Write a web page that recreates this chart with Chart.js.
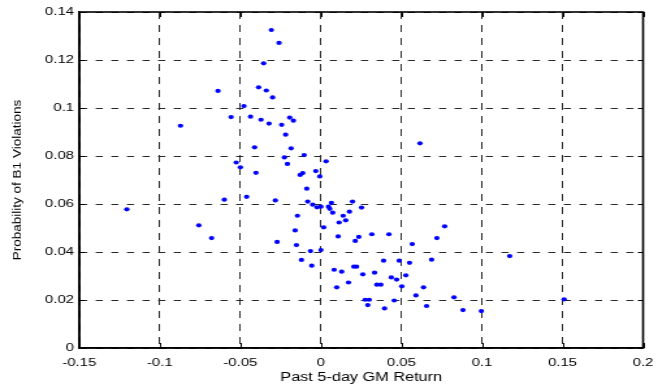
<!DOCTYPE html>
<html>
<head>
<meta charset="utf-8">
<script src="https://cdn.jsdelivr.net/npm/chart.js@4/dist/chart.umd.min.js"></script>
<style>
  html, body { margin: 0; padding: 0; background: #fff; overflow: hidden; }
  /* the figure is laid out on a narrower canvas and widened horizontally */
  #wrap { width: 506px; height: 392px; transform: scaleX(1.3004); transform-origin: 0 0; }
  #c { display: block; }
</style>
</head>
<body>
<div id="wrap"><canvas id="c" width="506" height="392"></canvas></div>
<script>
// Past 5-day GM return vs. probability of B1 violations
const returns = [
  -0.0639, -0.0872, -0.0558, -0.0478, -0.0437,
  -0.0308, -0.0260, -0.0356, -0.0387, -0.0339, -0.0300, -0.0372, -0.0322, -0.0244, -0.0194, -0.0171,
  -0.0219, -0.0412, -0.0185, -0.0104, 0.0615, -0.0227, 0.0032, -0.0208, -0.0500, -0.0403,
  -0.0113, -0.0129, -0.0032, -0.0007, -0.0088, -0.0461, -0.0283, -0.0082, -0.0051, -0.0024,
  0.0000, 0.0047, 0.0065, 0.0055, 0.0196, 0.0073, 0.0252, 0.0177, 0.0138, -0.0146,
  0.0154, 0.0113, 0.0017, -0.0160, 0.0107, 0.0235, 0.0213, 0.0316, 0.0422, 0.0720,
  0.0567, -0.0272, -0.0152, 0.0768, -0.0526, -0.0600, -0.1205, -0.0758, -0.0679,
  -0.0065, 0.0000, -0.0121, -0.0057, 0.0389, 0.0486, 0.0550, 0.0687, 0.0082, 0.0129,
  0.0204, 0.0221, 0.0260, 0.0333, 0.0437, 0.0470, 0.0527, 0.0171, 0.0098, 0.0347,
  0.0372, 0.0502, 0.0637, 0.0590, 0.0275, 0.0300, 0.0455, 0.0291, 0.0395, 0.0656,
  0.1172, 0.0826, 0.0882, 0.0996, 0.1510
];
const violationProb = [
  0.1071, 0.0926, 0.0962, 0.1008, 0.0964,
  0.1325, 0.1271, 0.1186, 0.1086, 0.1073, 0.1044, 0.0951, 0.0935, 0.0930, 0.0960, 0.0947,
  0.0889, 0.0836, 0.0832, 0.0804, 0.0853, 0.0794, 0.0778, 0.0767, 0.0753, 0.0730,
  0.0729, 0.0721, 0.0737, 0.0715, 0.0664, 0.0630, 0.0615, 0.0610, 0.0597, 0.0586,
  0.0589, 0.0589, 0.0605, 0.0580, 0.0610, 0.0564, 0.0585, 0.0568, 0.0551, 0.0551,
  0.0532, 0.0523, 0.0503, 0.0490, 0.0465, 0.0463, 0.0446, 0.0474, 0.0474, 0.0458,
  0.0433, 0.0442, 0.0429, 0.0507, 0.0773, 0.0618, 0.0578, 0.0511, 0.0458,
  0.0404, 0.0408, 0.0367, 0.0343, 0.0364, 0.0364, 0.0355, 0.0368, 0.0326, 0.0318,
  0.0339, 0.0339, 0.0307, 0.0314, 0.0294, 0.0285, 0.0303, 0.0273, 0.0253, 0.0264,
  0.0264, 0.0257, 0.0253, 0.0219, 0.0201, 0.0201, 0.0198, 0.0179, 0.0165, 0.0175,
  0.0383, 0.0211, 0.0158, 0.0154, 0.0203
];
const xTicks = [-0.15, -0.1, -0.05, 0, 0.05, 0.1, 0.15, 0.2];
const yTicks = [0, 0.02, 0.04, 0.06, 0.08, 0.1, 0.12, 0.14];
const xTitle = 'Past 5-day GM Return';
const yTitle = 'Probability of B1 Violations';

const FONT = 'Liberation Sans, Arial, Helvetica, sans-serif';
const points = returns.map((r, i) => ({ x: r, y: violationProb[i] }));

// Box frame with short inward tick marks, plus the rotated y-axis label
const framePlugin = {
  id: 'frame',
  afterDatasetsDraw(chart) {
    const { ctx, chartArea: a, scales } = chart;
    ctx.save();
    ctx.strokeStyle = '#000';
    ctx.lineWidth = 1;
    ctx.setLineDash([]);
    const t = 5;
    ctx.beginPath();
    xTicks.forEach(v => {
      const px = Math.round(scales.x.getPixelForValue(v)) + 0.5;
      ctx.moveTo(px, a.bottom); ctx.lineTo(px, a.bottom - t);
      ctx.moveTo(px, a.top); ctx.lineTo(px, a.top + t);
    });
    yTicks.forEach(v => {
      const py = Math.round(scales.y.getPixelForValue(v)) + 0.5;
      ctx.moveTo(a.left, py); ctx.lineTo(a.left + t * 0.8, py);
      ctx.moveTo(a.right, py); ctx.lineTo(a.right - t * 0.8, py);
    });
    ctx.stroke();
    ctx.lineWidth = 1.6;
    ctx.strokeRect(a.left, a.top, a.right - a.left, a.bottom - a.top);

    // y-axis label, drawn tall and narrow along the axis
    ctx.translate(13.5, (a.top + a.bottom) / 2);
    ctx.rotate(-Math.PI / 2);
    ctx.scale(1.5, 1);
    ctx.font = `9px ${FONT}`;
    ctx.fillStyle = '#000';
    ctx.textAlign = 'center';
    ctx.textBaseline = 'middle';
    ctx.fillText(yTitle, 0, 0);
    ctx.restore();
  }
};

new Chart(document.getElementById('c'), {
  type: 'scatter',
  data: {
    datasets: [{
      data: points,
      backgroundColor: '#0000ff',
      borderWidth: 0,
      pointRadius: 2.1,
      pointHoverRadius: 2.1
    }]
  },
  options: {
    responsive: false,
    animation: false,
    layout: { padding: { top: 12, right: 11.5, left: 0, bottom: 7 } },
    plugins: { legend: { display: false }, tooltip: { enabled: false } },
    scales: {
      x: {
        type: 'linear',
        min: -0.15, max: 0.2,
        afterBuildTicks(s) { s.ticks = xTicks.map(v => ({ value: v })); },
        afterFit(s) { s.height = 37; s.paddingLeft = 0; s.paddingRight = 0; },
        grid: { color: '#2a2a2a', lineWidth: 1, drawTicks: false },
        border: { display: true, color: '#000', width: 1.6, dash: [7, 6] },
        ticks: {
          color: '#000',
          padding: 8,
          font: { family: FONT, size: 11.5 },
          callback: v => (v === 0 ? '0' : String(v))
        },
        title: {
          display: true,
          text: xTitle,
          color: '#000',
          padding: { top: 0, bottom: 0 },
          font: { family: FONT, size: 12.5 }
        }
      },
      y: {
        type: 'linear',
        min: 0, max: 0.14,
        afterBuildTicks(s) { s.ticks = yTicks.map(v => ({ value: v })); },
        afterFit(s) { s.width = 61; s.paddingTop = 0; s.paddingBottom = 0; },
        grid: { color: '#2a2a2a', lineWidth: 1, drawTicks: false },
        border: { display: true, color: '#000', width: 1.6, dash: [5.5, 6.5] },
        ticks: {
          color: '#000',
          padding: 4,
          font: { family: FONT, size: 11.5 },
          callback: v => (v === 0 ? '0' : String(Math.round(v * 100) / 100))
        }
      }
    }
  },
  plugins: [framePlugin]
});
</script>
</body>
</html>
